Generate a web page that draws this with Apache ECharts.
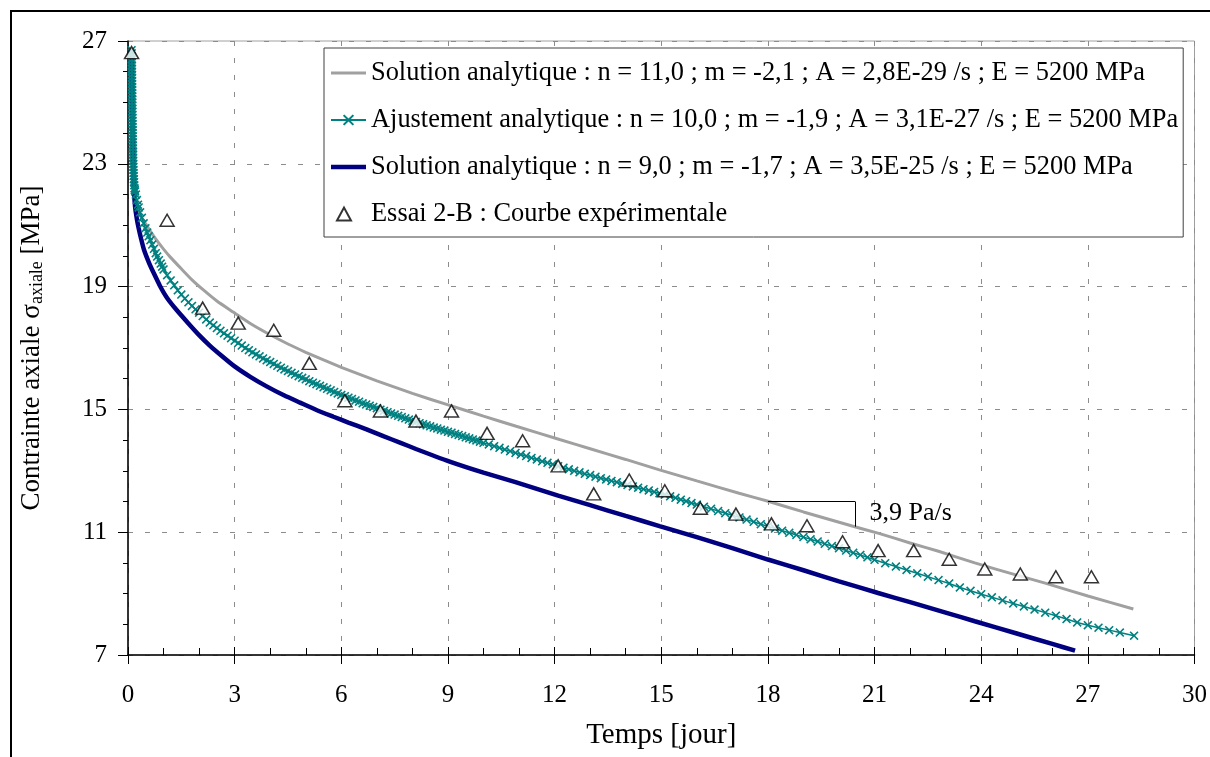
<!DOCTYPE html>
<html>
<head>
<meta charset="utf-8">
<script src="https://cdn.jsdelivr.net/npm/echarts@6/dist/echarts.min.js"></script>
<style>
  html, body { margin: 0; padding: 0; background: #fff; }
  #chart { width: 1210px; height: 757px; }
</style>
</head>
<body>
<div id="chart"></div>
<script>
// noms des courbes (légende)
const nomSol11 = 'Solution analytique : n = 11,0 ; m = -2,1 ; A = 2,8E-29 /s ; E = 5200 MPa'
const nomAjust = 'Ajustement analytique : n = 10,0 ; m = -1,9 ; A = 3,1E-27 /s ; E = 5200 MPa'
const nomSol9 = 'Solution analytique : n = 9,0 ; m = -1,7 ; A = 3,5E-25 /s ; E = 5200 MPa'
const nomEssai = 'Essai 2-B : Courbe expérimentale'

// solution analytique n = 11 (gris)
const sol11Temps = [0.1, 0.11, 0.12, 0.13, 0.145, 0.165, 0.2, 0.26, 0.34, 0.45, 0.575, 0.8, 1.0, 1.19, 1.5, 1.8, 2.12, 2.5, 2.96, 3.44, 4.0, 4.5, 5.0, 5.5, 6.0, 7.0, 8.0, 9.05, 10.0, 10.92, 12.14, 13.0, 14.0, 14.95, 16.0, 17.19, 18.03, 19.0, 20.37, 21.12, 22.0, 22.8, 23.82, 25.0, 25.8, 27.0, 28.28]
const sol11Sigma = [26.7, 25.8, 24.9, 24.1, 23.3, 22.6, 22.0, 21.6, 21.32, 21.13, 20.9, 20.52, 20.22, 19.96, 19.58, 19.22, 18.89, 18.53, 18.17, 17.8, 17.43, 17.13, 16.86, 16.61, 16.37, 15.93, 15.52, 15.13, 14.78, 14.45, 14.02, 13.72, 13.37, 13.03, 12.67, 12.27, 12.0, 11.66, 11.2, 10.96, 10.65, 10.38, 10.0, 9.6, 9.34, 8.92, 8.5]

// ajustement analytique n = 10 (sarcelle, marqueurs x)
const ajustTemps = [0.1, 0.102, 0.104, 0.106, 0.107, 0.108, 0.109, 0.11, 0.111, 0.112, 0.113, 0.114, 0.115, 0.116, 0.117, 0.118, 0.119, 0.12, 0.121, 0.122,
  0.123, 0.124, 0.125, 0.126, 0.127, 0.128, 0.129, 0.13, 0.131, 0.133, 0.134, 0.136, 0.137, 0.139, 0.141, 0.143, 0.145, 0.147, 0.15, 0.153,
  0.156, 0.16, 0.165, 0.17, 0.176, 0.183, 0.19,
  0.2, 0.22, 0.25, 0.28, 0.3, 0.34, 0.39, 0.44, 0.49, 0.54, 0.58, 0.63, 0.68, 0.73, 0.78, 0.82, 0.87, 0.92, 0.96,
  1.0, 1.1, 1.2, 1.3, 1.4, 1.5, 1.6, 1.7, 1.8, 1.9, 2.0, 2.1, 2.2, 2.3, 2.4, 2.5, 2.6, 2.7, 2.8, 2.9,
  3.0, 3.1, 3.2, 3.3, 3.4, 3.5, 3.6, 3.7, 3.8, 3.9, 4.0, 4.1, 4.2, 4.3, 4.4, 4.5, 4.6, 4.7, 4.8, 4.9,
  5.0, 5.1, 5.2, 5.3, 5.4, 5.5, 5.6, 5.7, 5.8, 5.9, 6.0, 6.1, 6.2, 6.3, 6.4, 6.5, 6.6, 6.7, 6.8, 6.9,
  7.0, 7.1, 7.2, 7.3, 7.4, 7.5, 7.6, 7.7, 7.8, 7.9, 8.0, 8.1, 8.2, 8.3, 8.4, 8.5, 8.6, 8.7, 8.8, 8.9,
  9.0, 9.1, 9.2, 9.3, 9.4, 9.5, 9.6, 9.7, 9.8, 9.9, 10.0,
  10.15, 10.3, 10.45, 10.6, 10.75, 10.9, 11.05, 11.2, 11.35, 11.5, 11.65, 11.8, 11.95, 12.1, 12.25, 12.4, 12.55, 12.7, 12.85, 13.0,
  13.15, 13.3, 13.45, 13.6, 13.75, 13.9, 14.05, 14.2, 14.35, 14.5, 14.65, 14.8, 14.95, 15.1, 15.25, 15.4, 15.55, 15.7, 15.85, 16.0,
  16.2, 16.4, 16.6, 16.8, 17.0, 17.2, 17.4, 17.6, 17.8, 18.0, 18.2, 18.4, 18.6, 18.8, 19.0, 19.2, 19.4, 19.6, 19.8, 20.0,
  20.2, 20.4, 20.6, 20.8, 21.0, 21.3, 21.6, 21.9, 22.2, 22.5, 22.8, 23.1, 23.4, 23.7, 24.0, 24.3, 24.6, 24.9, 25.2, 25.5,
  25.8, 26.1, 26.4, 26.7, 27.0, 27.3, 27.6, 27.9, 28.3]
const ajustSigma = [26.7, 26.6, 26.5, 26.4, 26.3, 26.2, 26.1, 26.0, 25.9, 25.8, 25.7, 25.6, 25.5, 25.4, 25.3, 25.2, 25.1, 25.0, 24.9, 24.8,
  24.7, 24.6, 24.5, 24.4, 24.3, 24.2, 24.1, 24.0, 23.9, 23.8, 23.7, 23.6, 23.5, 23.4, 23.3, 23.2, 23.1, 23.0, 22.9, 22.8,
  22.7, 22.6, 22.5, 22.4, 22.3, 22.2, 22.15,
  22.1, 22.0, 21.82, 21.67, 21.58, 21.42, 21.24, 21.06, 20.9, 20.76, 20.64, 20.51, 20.37, 20.23, 20.09, 19.98, 19.86, 19.75, 19.65,
  19.56, 19.37, 19.2, 19.04, 18.88, 18.74, 18.61, 18.49, 18.37, 18.26, 18.15, 18.04, 17.93, 17.83, 17.74, 17.65, 17.56, 17.48, 17.4, 17.32,
  17.24, 17.16, 17.08, 17.0, 16.93, 16.86, 16.79, 16.73, 16.66, 16.6, 16.54, 16.48, 16.42, 16.36, 16.3, 16.25, 16.19, 16.14, 16.08, 16.03,
  15.98, 15.92, 15.87, 15.82, 15.77, 15.72, 15.67, 15.62, 15.57, 15.52, 15.47, 15.43, 15.38, 15.34, 15.29, 15.25, 15.2, 15.16, 15.12, 15.08,
  15.04, 14.99, 14.95, 14.91, 14.87, 14.83, 14.79, 14.75, 14.71, 14.67, 14.63, 14.59, 14.55, 14.52, 14.48, 14.45, 14.41, 14.38, 14.34, 14.31,
  14.27, 14.24, 14.2, 14.17, 14.13, 14.09, 14.06, 14.02, 13.99, 13.95, 13.91,
  13.86, 13.8, 13.75, 13.69, 13.64, 13.58, 13.53, 13.48, 13.42, 13.37, 13.31, 13.26, 13.21, 13.15, 13.1, 13.05, 13.0, 12.95, 12.9, 12.86,
  12.81, 12.76, 12.72, 12.67, 12.63, 12.58, 12.54, 12.49, 12.45, 12.4, 12.36, 12.31, 12.27, 12.22, 12.17, 12.12, 12.06, 12.01, 11.95, 11.9,
  11.83, 11.76, 11.69, 11.62, 11.55, 11.48, 11.41, 11.34, 11.26, 11.19, 11.12, 11.05, 10.98, 10.91, 10.84, 10.77, 10.7, 10.62, 10.55, 10.48,
  10.4, 10.33, 10.26, 10.18, 10.1, 9.99, 9.88, 9.77, 9.66, 9.55, 9.44, 9.33, 9.2, 9.09, 8.98, 8.88, 8.78, 8.68, 8.58, 8.48,
  8.38, 8.28, 8.17, 8.06, 7.97, 7.89, 7.81, 7.73, 7.63]

// solution analytique n = 9 (bleu marine)
const sol9Temps = [0.1, 0.11, 0.12, 0.13, 0.145, 0.165, 0.2, 0.25, 0.3, 0.37, 0.45, 0.6, 0.72, 0.9, 1.1, 1.38, 1.7, 2.0, 2.3, 2.64, 3.0, 3.44, 3.9, 4.4, 4.84, 5.3, 5.78, 6.2, 6.71, 7.2, 7.65, 8.1, 9.05, 10.0, 10.9, 12.1, 13.0, 14.0, 14.95, 16.0, 17.0, 18.0, 19.0, 20.0, 21.1, 22.0, 23.0, 23.82, 25.0, 26.0, 26.64]
const sol9Sigma = [26.7, 25.6, 24.6, 23.7, 22.9, 22.2, 21.6, 21.2, 20.9, 20.55, 20.2, 19.75, 19.45, 19.02, 18.63, 18.22, 17.8, 17.42, 17.08, 16.74, 16.4, 16.06, 15.75, 15.45, 15.22, 14.98, 14.76, 14.57, 14.35, 14.12, 13.92, 13.71, 13.3, 12.94, 12.63, 12.19, 11.88, 11.53, 11.2, 10.84, 10.48, 10.11, 9.76, 9.4, 9.02, 8.72, 8.38, 8.1, 7.7, 7.36, 7.14]

// essai 2-B (triangles)
const essaiTemps = [0.1, 1.1, 2.1, 3.1, 4.1, 5.1, 6.1, 7.1, 8.1, 9.1, 10.1, 11.1, 12.1, 13.1, 14.1, 15.1, 16.1, 17.1, 18.1, 19.1, 20.1, 21.1, 22.1, 23.1, 24.1, 25.1, 26.1, 27.1]
const essaiSigma = [26.62, 21.16, 18.3, 17.81, 17.58, 16.5, 15.28, 14.95, 14.62, 14.95, 14.22, 13.98, 13.16, 12.25, 12.7, 12.35, 11.78, 11.59, 11.27, 11.21, 10.69, 10.4, 10.4, 10.12, 9.8, 9.64, 9.55, 9.55]

// annotation de pente
const penteHaut = [18.0, 12.0]
const penteCoin = [20.45, 12.0]
const penteBas = [20.45, 11.18]
const penteTexte = [20.86, 11.63]
const penteLabel = '3,9 Pa/s'

const xTicks = { min: 0, max: 30, interval: 3 }
const yTicks = { min: 7, max: 27, interval: 4 }

const police = 'Liberation Serif'
const symboleX = 'path://M1.25,0L5,3.75L8.75,0L10,1.25L6.25,5L10,8.75L8.75,10L5,6.25L1.25,10L0,8.75L3.75,5L0,1.25Z'
// triangle de légende décalé vers la gauche (les segments nuls ne dessinent rien)
const iconeEssai = 'path://M0,13L0,13M6,13L13,0L20,13ZM35,13L35,13'

function paires(xs, ys) {
  return xs.map((x, i) => [x, ys[i]])
}

const grilleTirets = { show: true, lineStyle: { color: '#8c8c8c', width: 1, type: [5, 12] } }

let chart = echarts.init(document.getElementById('chart'), null, { renderer: 'canvas' })

let options = {
  animation: false,
  backgroundColor: '#fff',
  textStyle: { fontFamily: police, color: '#000' },
  grid: {
    left: 128, right: 13, top: 41, bottom: 102,
    show: true, borderColor: '#a0a0a0', borderWidth: 1, backgroundColor: 'transparent'
  },
  legend: {
    left: 324, top: 48,
    orient: 'vertical',
    itemWidth: 35, itemHeight: 14, itemGap: 21,
    padding: [12, 5, 10, 6],
    borderColor: '#404040', borderWidth: 1,
    backgroundColor: '#fff',
    symbolKeepAspect: true,
    textStyle: { fontFamily: police, fontSize: 26.4, color: '#000' },
    itemTextGap: 5,
    selectedMode: false,
    data: [
      { name: nomSol11, icon: 'path://M0,0H35V3H0Z' },
      { name: nomAjust },
      { name: nomSol9, icon: 'path://M0,0H35V4.5H0Z' },
      { name: nomEssai, icon: iconeEssai }
    ]
  },
  xAxis: [
    {
      type: 'value', position: 'bottom', ...xTicks,
      name: 'Temps [jour]', nameLocation: 'middle', nameGap: 66,
      nameTextStyle: { fontFamily: police, fontSize: 29, color: '#000' },
      axisLine: { onZero: false, lineStyle: { color: '#000', width: 1.5 } },
      axisTick: { inside: false, length: 9, lineStyle: { color: '#000', width: 1 } },
      axisLabel: { fontFamily: police, fontSize: 25, color: '#000', margin: 28 },
      splitLine: grilleTirets
    },
    {
      type: 'value', position: 'bottom', ...xTicks,
      axisLine: { show: false, onZero: false },
      axisTick: { inside: true, length: 8, lineStyle: { color: '#000', width: 1 } },
      minorTick: { show: true, splitNumber: 3, length: 7, lineStyle: { color: '#000', width: 1 } },
      axisLabel: { show: false },
      splitLine: { show: false }
    }
  ],
  yAxis: [
    {
      type: 'value', position: 'left', ...yTicks,
      name: 'Contrainte axiale σ{sub|axiale} [MPa]', nameLocation: 'middle', nameGap: 82,
      nameTextStyle: {
        fontFamily: police, fontSize: 27, color: '#000',
        rich: { sub: { fontFamily: police, fontSize: 18, color: '#000', verticalAlign: 'bottom', padding: [10, 0, 0, 0] } }
      },
      axisLine: { onZero: false, lineStyle: { color: '#000', width: 1.5 } },
      axisTick: { inside: false, length: 10, lineStyle: { color: '#000', width: 1 } },
      axisLabel: { fontFamily: police, fontSize: 25, color: '#000', margin: 21 },
      splitLine: grilleTirets
    },
    {
      type: 'value', position: 'left', ...yTicks,
      axisLine: { show: false, onZero: false },
      axisTick: { show: false },
      minorTick: { show: true, splitNumber: 4, length: 5, lineStyle: { color: '#000', width: 1 } },
      axisLabel: { show: false },
      splitLine: { show: false }
    }
  ],
  series: [
    {
      name: nomSol11, type: 'line', z: 2,
      data: paires(sol11Temps, sol11Sigma),
      symbol: 'none', smooth: 0.15,
      itemStyle: { color: '#a0a0a0' },
      lineStyle: { color: '#a0a0a0', width: 3 },
      markLine: {
        silent: true, symbol: 'none', animation: false,
        label: { show: false },
        lineStyle: { color: '#000', width: 1, type: 'solid' },
        data: [
          [{ coord: penteHaut }, { coord: penteCoin }],
          [{ coord: penteCoin }, { coord: penteBas }]
        ]
      },
      markPoint: {
        silent: true, symbol: 'circle', symbolSize: 0, animation: false,
        label: { show: true, position: 'right', distance: 0, formatter: penteLabel, fontFamily: police, fontSize: 26, color: '#000' },
        data: [{ coord: penteTexte }]
      }
    },
    {
      name: nomAjust, type: 'line', z: 3,
      data: paires(ajustTemps, ajustSigma),
      symbol: symboleX, symbolSize: 9, showSymbol: true,
      itemStyle: { color: '#008080' },
      lineStyle: { color: '#008080', width: 1.5 }
    },
    {
      name: nomSol9, type: 'line', z: 2,
      data: paires(sol9Temps, sol9Sigma),
      symbol: 'none', smooth: 0.15,
      itemStyle: { color: '#000080' },
      lineStyle: { color: '#000080', width: 4.5 }
    },
    {
      name: nomEssai, type: 'scatter', z: 4,
      data: paires(essaiTemps, essaiSigma),
      symbol: 'triangle', symbolSize: [14, 12],
      itemStyle: { color: '#fff', borderColor: '#000', borderWidth: 1.5 }
    }
  ],
  graphic: [
    {
      type: 'rect', silent: true, z: 100,
      shape: { x: 11, y: 11, width: 1400, height: 1000 },
      style: { fill: 'none', stroke: '#000', lineWidth: 2 }
    }
  ]
}

chart.setOption(options, true)
window.onresize = chart.resize
</script>
</body>
</html>
